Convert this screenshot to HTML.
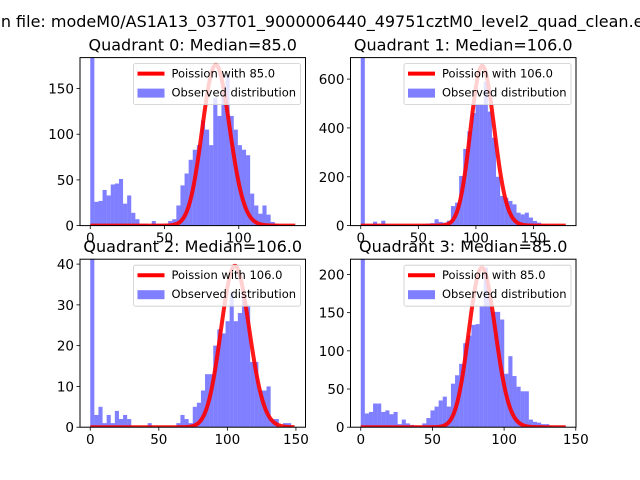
<!DOCTYPE html>
<html><head><meta charset="utf-8"><style>
body{margin:0;background:#fff}
svg{display:block;font-family:"DejaVu Sans","Liberation Sans",sans-serif}
</style></head><body>
<svg id="chart" width="640" height="480" viewBox="0 0 640 480" xmlns="http://www.w3.org/2000/svg">
<rect width="640" height="480" fill="#fff"/>
<text x="306" y="27" font-size="16" text-anchor="middle">Median file: modeM0/AS1A13_037T01_9000006440_49751cztM0_level2_quad_clean.evt</text>
</svg>
<script>
const titles = ["Quadrant 0: Median=85.0","Quadrant 1: Median=106.0","Quadrant 2: Median=106.0","Quadrant 3: Median=85.0"];
const medians = [85, 106, 106, 85];
const poissonScale = [4067, 16900, 1022, 4830];
const binWidths = [2.76, 3.56, 2.99, 2.86];
const yLimits = [183.8, 688, 41.2, 220];
const counts0 = [400,26,27,39,33,45,46,51,24,33,14,7,2,2,0,5,2,2,2,5,7,22,44,57,72,83,88,115,105,88,140,120,143,165,120,105,88,83,77,35,22,13,22,12,4,2,0,0,0,0];
const counts1 = [1500,5,5,16,5,20,5,3,3,2,2,2,2,3,3,5,8,10,26,15,12,20,80,94,203,314,386,461,495,495,590,467,360,200,121,114,101,87,53,46,53,33,19,12,5,5,3,3,2,2];
const counts2 = [90,3,5,1,3,1,4,2,3,2,0,0,0,0,1,0,0,0,0,0,0,1,3,2,1,5,6,9,13,13,20,24,23,26,33,26,28,33,30,16,16,9,9,10,2,2,0,1,1,0];
const counts3 = [500,18,20,31,31,20,22,17,20,4,10,5,3,2,2,5,12,22,27,35,40,27,57,68,83,110,120,134,135,158,209,169,151,151,141,70,93,67,53,47,47,10,7,6,4,4,2,1,1,1];
const allCounts = [counts0, counts1, counts2, counts3];
const xTicks = [[0,50,100],[0,50,100,150],[0,50,100,150],[0,50,100,150]];
const yTicks = [[0,50,100,150],[0,200,400,600],[0,10,20,30,40],[0,50,100,150,200]];

const NS = "http://www.w3.org/2000/svg";
const svg = document.getElementById('chart');
const boxes = [[80,305.5,57.6,225.6],[350.5,576,57.6,225.6],[80,305.5,259.2,427.2],[350.5,576,259.2,427.2]];
function mk(tag, attrs, parent){const e=document.createElementNS(NS,tag);for(const k in attrs)e.setAttribute(k,attrs[k]);(parent||svg).appendChild(e);return e;}
function lnfact(k){let s=0;for(let i=2;i<=k;i++)s+=Math.log(i);return s;}

for(let p=0;p<4;p++){
  const [L,R,T,B]=boxes[p];
  const counts=allCounts[p], bw=binWidths[p], nb=counts.length;
  const xmaxData=bw*nb;
  const xlo=-0.05*xmaxData, xhi=1.05*xmaxData;
  const mu=medians[p], sc=poissonScale[p];
  const ks=[]; const ps=[];
  for(let k=0;k<=Math.floor(xmaxData);k++){ks.push(k);ps.push(sc*Math.exp(k*Math.log(mu)-mu-lnfact(k)));}
  const ymax=yLimits[p];
  const X=v=>L+(v-xlo)/(xhi-xlo)*(R-L);
  const Y=v=>B-v/ymax*(B-T);
  const g=mk('g',{});
  
  
  const clipId='clip'+p;
  const cp=mk('clipPath',{id:clipId},g);
  mk('rect',{x:L,y:T,width:R-L,height:B-T},cp);
  const plot=mk('g',{'clip-path':'url(#'+clipId+')'},g);
  for(let i=0;i<nb;i++){
    if(counts[i]<=0)continue;
    const r=mk('rect',{x:X(i*bw),y:Y(counts[i]),width:X((i+1)*bw)-X(i*bw),height:B-Y(counts[i]),fill:'rgba(0,0,255,0.5)'},plot);
    
    
  }
  const pts=ks.map((k,i)=>X(k).toFixed(2)+','+Y(ps[i]).toFixed(2)).join(' ');
  const line=mk('polyline',{points:pts,fill:'none',stroke:'rgba(255,0,0,0.9)','stroke-width':4,'stroke-linejoin':'round'},plot);
  
  
  mk('rect',{x:L,y:T,width:R-L,height:B-T,fill:'none',stroke:'#000','stroke-width':1},g);
  xTicks[p].forEach(t=>{
    const x=X(t);
    mk('line',{x1:x,x2:x,y1:B,y2:B+3.5,stroke:'#000','stroke-width':0.8},g);
    const tx=mk('text',{x:x,y:B+17,'font-size':13.5,'text-anchor':'middle'},g);
    tx.textContent=t;
    
    
  });
  yTicks[p].forEach(t=>{
    const y=Y(t);
    mk('line',{x1:L-3.5,x2:L,y1:y,y2:y,stroke:'#000','stroke-width':0.8},g);
    const tx=mk('text',{x:L-6,y:y+5,'font-size':13.5,'text-anchor':'end'},g);
    tx.textContent=t;
    
    
  });
  const ti=mk('text',{x:(L+R)/2,y:T-7,'font-size':16,'text-anchor':'middle'},g);
  ti.textContent=titles[p];
  
  
  const lg=mk('g',{},g);
  
  
  const lx=R-172, ly=T+6;
  mk('rect',{x:lx,y:ly,width:167,height:41,rx:2,fill:'rgba(255,255,255,0.8)',stroke:'#ccc','stroke-width':0.8},lg);
  mk('line',{x1:lx+4,x2:lx+31,y1:ly+10,y2:ly+10,stroke:'#f00','stroke-width':4},lg);
  const t1=mk('text',{x:lx+38,y:ly+14,'font-size':11.5},lg);
  t1.textContent='Poission with '+medians[p].toFixed(1);
  
  
  mk('rect',{x:lx+4,y:ly+25,width:27,height:9,fill:'rgba(0,0,255,0.5)'},lg);
  const t2=mk('text',{x:lx+38,y:ly+33,'font-size':11.5},lg);
  t2.textContent='Observed distribution';
  
  
}
</script>
</body></html>
